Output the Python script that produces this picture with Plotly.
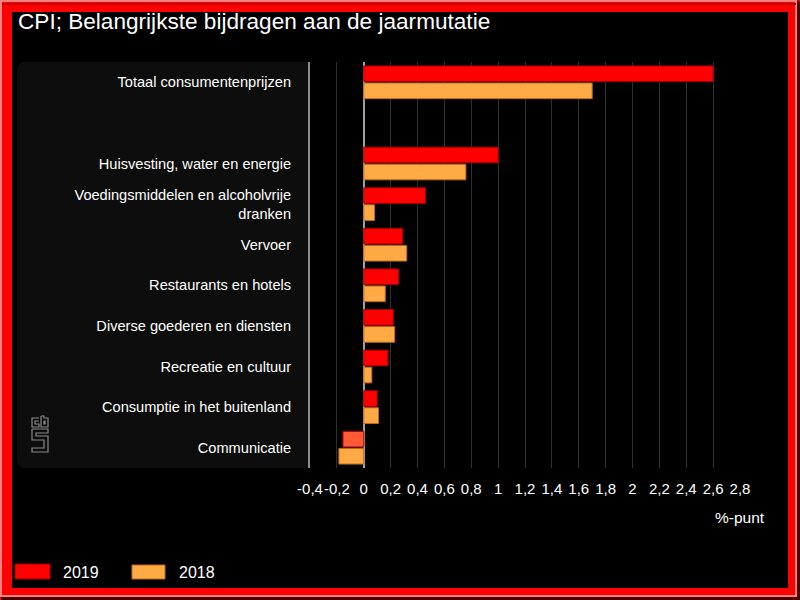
import plotly.graph_objects as go

categories = [
    "Totaal consumentenprijzen",
    " ",
    "Huisvesting, water en energie",
    "Voedingsmiddelen en alcoholvrije<br>dranken",
    "Vervoer",
    "Restaurants en hotels",
    "Diverse goederen en diensten",
    "Recreatie en cultuur",
    "Consumptie in het buitenland",
    "Communicatie",
]
values_2019 = [2.6, None, 1.0, 0.46, 0.29, 0.26, 0.22, 0.18, 0.10, -0.155]
values_2018 = [1.7, None, 0.76, 0.08, 0.32, 0.16, 0.23, 0.06, 0.11, -0.185]
tick_vals = [-0.4, -0.2, 0, 0.2, 0.4, 0.6, 0.8, 1, 1.2, 1.4, 1.6, 1.8, 2, 2.2, 2.4, 2.6, 2.8]
tick_text = ["-0,4", "-0,2", "0", "0,2", "0,4", "0,6", "0,8", "1", "1,2", "1,4", "1,6", "1,8",
             "2", "2,2", "2,4", "2,6", "2,8"]
series_names = ["2019", "2018"]

FONT = "Liberation Sans, Arial, sans-serif"
W, H = 800, 600
ML, MR, MT, MB = 310, 60, 62, 132
PW, PH = W - ML - MR, H - MT - MB


def PX(x):
    return (x - ML) / PW


def PY(y):
    return (H - MB - y) / PH


red_colors = ["#ff5a33" if (v is not None and v < 0) else "#ff0000" for v in values_2019]

fig = go.Figure()
fig.add_trace(go.Bar(
    y=categories, x=values_2019, orientation="h", name=series_names[0],
    marker=dict(color=red_colors, line=dict(color="#a00000", width=1)),
))
fig.add_trace(go.Bar(
    y=categories, x=values_2018, orientation="h", name=series_names[1],
    marker=dict(color="#ffaa44", line=dict(color="#b86a1a", width=1)),
))

shapes = []
# outer frame
shapes.append(dict(type="rect", xref="paper", yref="paper", x0=PX(12), x1=PX(788), y0=PY(12), y1=PY(588),
                   fillcolor="#000000", line=dict(width=0), layer="below"))
shapes.append(dict(type="rect", xref="paper", yref="paper", x0=PX(1), x1=PX(796), y0=PY(1), y1=PY(596),
                   fillcolor="rgba(0,0,0,0)", line=dict(color="#ff8080", width=2), layer="below"))
shapes.append(dict(type="path", xref="paper", yref="paper",
                   path=f"M {PX(1)} {PY(598.5)} L {PX(798.5)} {PY(598.5)} L {PX(798.5)} {PY(1)}",
                   line=dict(color="#4a0000", width=3), layer="below"))
shapes.append(dict(type="path", xref="paper", yref="paper",
                   path=f"M {PX(2)} {PY(4)} L {PX(796)} {PY(4)}",
                   line=dict(color="#c00000", width=2), layer="below"))
# label panel with rounded left corners
r = 9
x0, x1, y0, y1 = 17, 310, 62, 468
panel = (f"M {PX(x1)} {PY(y0)} L {PX(x0 + r)} {PY(y0)} Q {PX(x0)} {PY(y0)} {PX(x0)} {PY(y0 + r)} "
         f"L {PX(x0)} {PY(y1 - r)} Q {PX(x0)} {PY(y1)} {PX(x0 + r)} {PY(y1)} L {PX(x1)} {PY(y1)} Z")
shapes.append(dict(type="path", xref="paper", yref="paper", path=panel,
                   fillcolor="#0d0d0d", line=dict(width=0), layer="below"))
# cbs logo (outline)
logo_paths = [
    # c
    [(39, 418), (32, 418), (32, 427), (39, 427), (39, 424), (35, 424), (35, 421), (39, 421)],
    # b
    [(41, 416), (44, 416), (44, 418), (48, 418), (48, 427), (41, 427), (41, 416)],
    [(44, 421), (45, 421), (45, 424), (44, 424), (44, 421)],
    # S
    [(32, 429), (48, 429), (48, 433), (36, 433), (36, 436), (48, 436), (48, 452), (32, 452), (32, 448),
     (44, 448), (44, 440), (32, 440), (32, 429)],
]
for pts in logo_paths:
    p = "M " + " L ".join(f"{PX(a)} {PY(b)}" for a, b in pts)
    shapes.append(dict(type="path", xref="paper", yref="paper", path=p,
                       line=dict(color="#8a8a8a", width=1.2), layer="below"))
# legend swatches
shapes.append(dict(type="rect", xref="paper", yref="paper", x0=PX(15), x1=PX(50), y0=PY(564), y1=PY(579),
                   fillcolor="#ff0000", line=dict(color="#a00000", width=1)))
shapes.append(dict(type="rect", xref="paper", yref="paper", x0=PX(132), x1=PX(165), y0=PY(565), y1=PY(579),
                   fillcolor="#ffaa44", line=dict(color="#b86a1a", width=1)))

annotations = [
    dict(text="CPI; Belangrijkste bijdragen aan de jaarmutatie", xref="paper", yref="paper",
         x=PX(16), y=PY(22), xanchor="left", yanchor="middle", showarrow=False,
         font=dict(family=FONT, size=22.6, color="#ffffff")),
    dict(text="%-punt", xref="paper", yref="paper", x=PX(740), y=PY(517), xanchor="center",
         yanchor="middle", showarrow=False, font=dict(family=FONT, size=15.5, color="#ffffff")),
    dict(text=series_names[0], xref="paper", yref="paper", x=PX(61), y=PY(572), xanchor="left",
         yanchor="middle", showarrow=False, font=dict(family=FONT, size=16, color="#ffffff")),
    dict(text=series_names[1], xref="paper", yref="paper", x=PX(177), y=PY(572), xanchor="left",
         yanchor="middle", showarrow=False, font=dict(family=FONT, size=16, color="#ffffff")),
]

fig.update_layout(
    width=W, height=H,
    margin=dict(l=ML, r=MR, t=MT, b=MB, pad=0),
    paper_bgcolor="#ff0000",
    plot_bgcolor="rgba(0,0,0,0)",
    barmode="group", bargap=0.16, bargroupgap=0.08,
    showlegend=False,
    shapes=shapes,
    annotations=annotations,
    font=dict(family=FONT, color="#ffffff"),
    xaxis=dict(range=[-0.4, 2.8], tickvals=tick_vals, ticktext=tick_text, tickangle=0,
               showgrid=True, gridcolor="#303030", gridwidth=1,
               zeroline=True, zerolinecolor="#a0a0a0", zerolinewidth=2,
               showline=False, ticks="", ticklabelstandoff=10,
               tickfont=dict(family=FONT, size=15, color="#ffffff"), fixedrange=True),
    yaxis=dict(categoryorder="array", categoryarray=categories, autorange="reversed",
               showgrid=False, zeroline=False, showline=True, linecolor="#8c8c8c", linewidth=2,
               ticks="", ticklabelstandoff=14,
               tickfont=dict(family=FONT, size=14.6, color="#ffffff"), fixedrange=True),
)

fig.write_html("out.html", config={"displayModeBar": False},
               post_script="document.body.style.margin='0';document.body.style.padding='0';"
                           "document.body.style.overflow='hidden';")
